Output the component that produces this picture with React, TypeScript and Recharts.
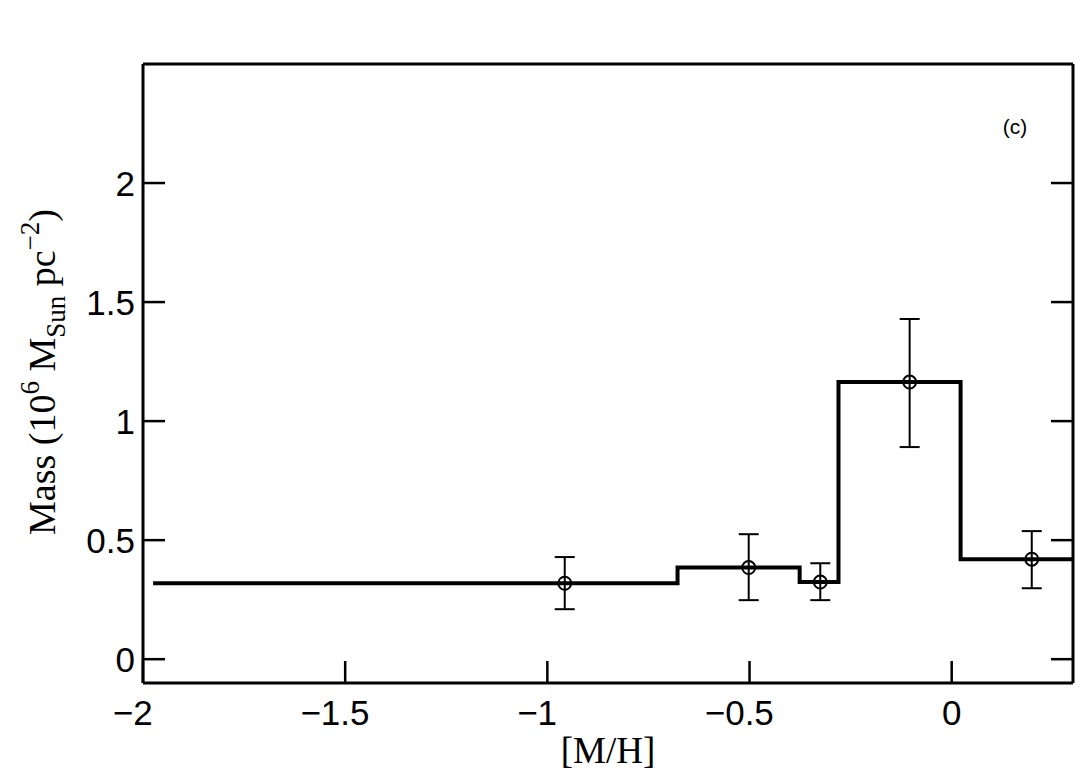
import { ComposedChart, Line, Scatter, ErrorBar, XAxis, YAxis, Customized } from "recharts";

// step histogram: left edge of each bin and its level (last point closes the final bin)
const stepX = [-1.975, -0.678, -0.376, -0.28, 0.022, 0.3];
const stepY = [0.319, 0.385, 0.324, 1.164, 0.42, 0.42];

// measured points with asymmetric y errors
const ptX = [-0.957, -0.502, -0.325, -0.104, 0.198];
const ptY = [0.319, 0.385, 0.324, 1.164, 0.42];
const errLow = [0.109, 0.137, 0.076, 0.273, 0.122];
const errHigh = [0.11, 0.14, 0.079, 0.265, 0.118];

const xTicks = [-2, -1.5, -1, -0.5, 0];
const yTicks = [0, 0.5, 1, 1.5, 2];

const stepData = stepX.map((x, i) => ({ x, y: stepY[i] }));
const pointData = ptX.map((x, i) => ({ x, y: ptY[i], err: [errLow[i], errHigh[i]] }));

const SANS = "'Liberation Sans', Arial, Helvetica, sans-serif";
const SERIF = "'Liberation Serif', 'Times New Roman', serif";
const TICK_FS = 35;

const fmt = (v: number) => (v < 0 ? "\u2212" + String(Math.abs(v)) : String(v));

// digits are centred on the tick, the minus sign hangs off to the left
function XTick(props: any) {
  const { x, y, payload } = props;
  const digits = String(Math.abs(payload.value));
  let w = 0;
  for (const ch of digits) w += ch === "." ? 0.278 : 0.556;
  const half = (w * TICK_FS) / 2;
  return (
    <text x={x + half} y={y} dy="0.7em" textAnchor="end" fontFamily={SANS} fontSize={TICK_FS} fill="#000">
      {fmt(payload.value)}
    </text>
  );
}

function YTick(props: any) {
  const { x, y, payload } = props;
  return (
    <text x={x} y={y} dy="0.36em" textAnchor="end" fontFamily={SANS} fontSize={TICK_FS} fill="#000">
      {fmt(payload.value)}
    </text>
  );
}

const NoTick = () => <g />;

function Ring(props: any) {
  const { cx, cy } = props;
  return <circle cx={cx} cy={cy} r={6.5} fill="none" stroke="#000" strokeWidth={2} />;
}

function Labels() {
  return (
    <g>
      <text x={608} y={763} textAnchor="middle" fontFamily={SERIF} fontSize={37} fill="#000">
        [M/H]
      </text>
      <text
        x={55}
        y={372}
        textAnchor="middle"
        transform="rotate(-90, 55, 372)"
        fontFamily={SERIF}
        fontSize={38}
        fill="#000"
      >
        Mass (10
        <tspan fontSize={27} dy={-16}>6</tspan>
        <tspan dy={16}> M</tspan>
        <tspan fontSize={27} dy={10}>Sun</tspan>
        <tspan dy={-10}> pc</tspan>
        <tspan fontSize={27} dy={-16}>{"\u22122"}</tspan>
        <tspan dy={16}>)</tspan>
      </text>
      <text x={1015} y={134} textAnchor="middle" fontFamily={SANS} fontSize={21} fill="#000">
        (c)
      </text>
    </g>
  );
}

export default function App() {
  const axisLine = { stroke: "#000", strokeWidth: 3 };
  const tickLine = { stroke: "#000", strokeWidth: 2.5 };
  return (
    <div style={{ position: "absolute", left: 0, top: 0, background: "#fff" }}>
      <ComposedChart width={1082} height={773} margin={{ top: 63, right: 8, bottom: 30, left: 43 }}>
        <XAxis
          xAxisId="b"
          dataKey="x"
          type="number"
          domain={[-2, 0.3]}
          ticks={xTicks}
          allowDataOverflow
          height={60}
          axisLine={axisLine}
          tickLine={tickLine}
          tickSize={-22}
          tickMargin={39}
          tick={<XTick />}
          interval={0}
        />
        <XAxis
          xAxisId="t"
          orientation="top"
          type="number"
          domain={[-2, 0.3]}
          ticks={xTicks}
          allowDataOverflow
          height={1}
          axisLine={axisLine}
          tickLine={tickLine}
          tickSize={-22}
          tick={NoTick}
          interval={0}
        />
        <YAxis
          yAxisId="l"
          type="number"
          domain={[-0.1, 2.5]}
          ticks={yTicks}
          allowDataOverflow
          width={100}
          axisLine={axisLine}
          tickLine={tickLine}
          tickSize={-22}
          tickMargin={30}
          tick={<YTick />}
          interval={0}
        />
        <YAxis
          yAxisId="r"
          orientation="right"
          type="number"
          domain={[-0.1, 2.5]}
          ticks={yTicks}
          allowDataOverflow
          width={1}
          axisLine={axisLine}
          tickLine={tickLine}
          tickSize={-22}
          tick={NoTick}
          interval={0}
        />
        <Line
          xAxisId="b"
          yAxisId="l"
          data={stepData}
          dataKey="y"
          type="stepAfter"
          stroke="#000"
          strokeWidth={4}
          dot={false}
          activeDot={false}
          isAnimationActive={false}
        />
        <Scatter
          xAxisId="b"
          yAxisId="l"
          data={pointData}
          dataKey="y"
          shape={<Ring />}
          isAnimationActive={false}
        >
          <ErrorBar dataKey="err" direction="y" width={10} stroke="#000" strokeWidth={2} />
        </Scatter>
        <Customized component={<Labels />} />
      </ComposedChart>
    </div>
  );
}
